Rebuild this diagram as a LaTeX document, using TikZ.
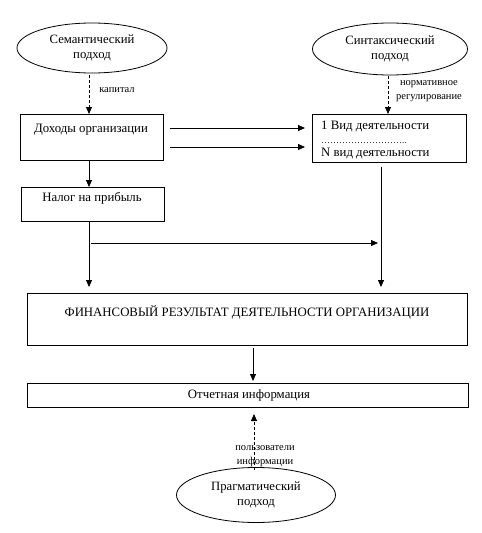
\documentclass[tikz,border=0pt]{standalone}
\usepackage{fontspec}
\setmainfont{Liberation Serif}
\usetikzlibrary{arrows.meta,shapes.geometric}
\begin{document}
\begin{tikzpicture}[x=1pt,y=-1pt,
  box/.style={draw,line width=0.8pt,rectangle,anchor=north west,inner sep=0pt},
  oval/.style={draw,line width=0.8pt,ellipse,inner sep=0pt,align=center,font=\fontsize{12.7}{15}\selectfont},
  txt/.style={inner sep=0pt,font=\fontsize{12.8}{15}\selectfont},
  small/.style={inner sep=0pt,font=\fontsize{10.5}{12}\selectfont},
  arr/.style={line width=0.8pt,-{Triangle[length=7pt,width=6pt]}},
  darr/.style={arr,dash pattern=on 3pt off 2pt}]
\useasboundingbox (0,0) rectangle (482,533);
% ellipses
\node[oval,minimum width=150,minimum height=50] (sem) at (92,48) {Семантический\\подход};
\node[oval,minimum width=155,minimum height=52] (syn) at (390,49) {Синтаксический\\подход};
\node[oval,minimum width=159,minimum height=55] (prag) at (256,495) {Прагматический\\подход};
% boxes
\node[box,minimum width=143,minimum height=46] (doh) at (20,114) {};
\node[txt] (dohT) at (91,130) {Доходы организации};
\node[box,minimum width=154,minimum height=48] (vid) at (312,114) {};
\node[txt,anchor=west] (vid1) at (321,127) {1 Вид деятельности};
\node[small,anchor=base west] (vid2) at (321,143) {\fontsize{9}{10}\selectfont………………………..};
\node[txt,anchor=west] (vid3) at (321,154) {N вид деятельности};
\node[box,minimum width=143,minimum height=34] (nal) at (21,187) {};
\node[txt] (nalT) at (92,198) {Налог на прибыль};
\node[box,minimum width=440,minimum height=52] (fin) at (27,293) {};
\node[txt] (finT) at (247,312) {ФИНАНСОВЫЙ РЕЗУЛЬТАТ ДЕЯТЕЛЬНОСТИ ОРГАНИЗАЦИИ};
\node[box,minimum width=441,minimum height=24] (otch) at (27,383) {};
\node[txt] (otchT) at (249,395) {Отчетная информация};
% labels
\node[small] (lkap) at (117,90) {капитал};
\node[small] (lnorm1) at (429,84) {нормативное};
\node[small] (lnorm2) at (429,98) {регулирование};
\node[small] (lpol1) at (265,448) {пользователи};
\node[small] (lpol2) at (265,462) {информации};
% coordinates
\coordinate (a1s) at (170,128); \coordinate (a1e) at (305,128);
\coordinate (a2s) at (170,147); \coordinate (a2e) at (305,147);
\coordinate (hs) at (91,243); \coordinate (he) at (378,243);
% connectors
\draw[darr] (89,75) -- (89,114);
\draw[darr] (388,76) -- (388,114);
\draw[arr] (a1s) -- (a1e);
\draw[arr] (a2s) -- (a2e);
\draw[arr] (89,160) -- (89,187);
\draw[arr] (89,221) -- (89,287);
\draw[arr] (hs) -- (he);
\draw[arr] (381,167) -- (381,287);
\draw[arr] (253,348) -- (253,381);
\draw[darr] (254,470) -- (254,414);
\end{tikzpicture}
\end{document}
